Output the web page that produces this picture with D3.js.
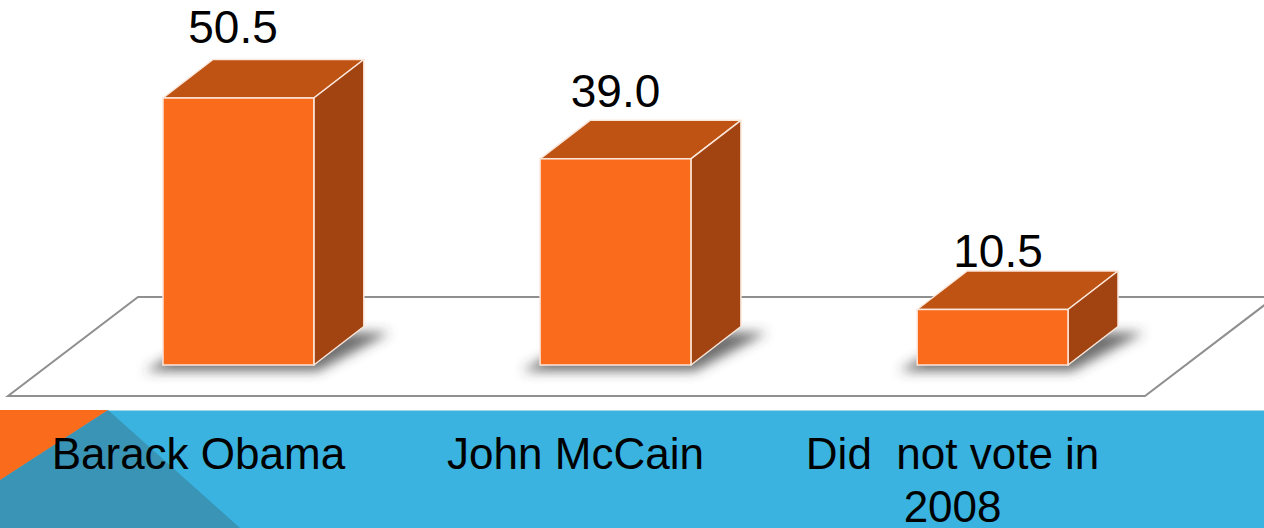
<!DOCTYPE html>
<html>
<head>
<meta charset="utf-8">
<script src="https://cdn.jsdelivr.net/npm/d3@7"></script>
<style>
  html, body { margin: 0; padding: 0; background: #fff; overflow: hidden; }
  text { font-family: "Liberation Sans", Arial, sans-serif; }
</style>
</head>
<body>
<div id="chart"></div>
<script>
// Data
const categories = ["Barack Obama", "John McCain", "Did  not vote in 2008"];
const categoryLines = [["Barack Obama"], ["John McCain"], ["Did  not vote in", "2008"]];
const values = [50.5, 39.0, 10.5];
const valueLabels = ["50.5", "39.0", "10.5"];

const width = 1264, height = 528;

const svg = d3.select("#chart")
  .append("svg")
  .attr("width", width)
  .attr("height", height);

// 3D depth of the boxes
const depthX = 50, depthY = 38.5;

// Scales
const x = d3.scaleBand()
  .domain(categories)
  .range([163, 1068])
  .paddingInner(0.6)
  .paddingOuter(0);

const y = d3.scaleLinear()
  .domain([0, 50.5])
  .range([365, 98]);

// value labels sit on a slightly different plane (perspective)
const yLabel = d3.scaleLinear()
  .domain([0, 50.5])
  .range([326, 43]);

const xLabel = d3.scalePoint()
  .domain(categories)
  .range([233, 998]);

const defs = svg.append("defs");
defs.append("filter")
  .attr("id", "shadow")
  .attr("x", "-30%").attr("y", "-100%")
  .attr("width", "160%").attr("height", "300%")
  .append("feGaussianBlur")
  .attr("stdDeviation", 6);

// Floor
const floorBack = 297, floorFront = 396;
svg.append("path")
  .attr("d", `M8,${floorFront} L1145,${floorFront} L1275,${floorBack} L138,${floorBack} Z`)
  .attr("fill", "#fff")
  .attr("stroke", "#8f8f8f")
  .attr("stroke-width", 2);

const bars = svg.append("g")
  .selectAll("g")
  .data(categories.map((c, i) => ({ cat: c, value: values[i], label: valueLabels[i] })))
  .join("g");

// Shadows
bars.append("path")
  .attr("d", d => {
    const x0 = x(d.cat), x1 = x0 + x.bandwidth(), yb = y(0);
    return `M${x0 - 18},${yb + 6} L${x1 + 4},${yb + 6} L${x1 + depthX + 26},${yb - depthY + 6} L${x0 + depthX},${yb - depthY + 6} Z`;
  })
  .attr("fill", "rgba(60,60,60,0.75)")
  .attr("filter", "url(#shadow)");

// Top face
bars.append("path")
  .attr("d", d => {
    const x0 = x(d.cat), x1 = x0 + x.bandwidth(), yt = y(d.value);
    return `M${x0},${yt} L${x1},${yt} L${x1 + depthX},${yt - depthY} L${x0 + depthX},${yt - depthY} Z`;
  })
  .attr("fill", "#bf5313")
  .attr("stroke", "#fbe6da")
  .attr("stroke-width", 1.5)
  .attr("stroke-linejoin", "round");

// Side face
bars.append("path")
  .attr("d", d => {
    const x1 = x(d.cat) + x.bandwidth(), yt = y(d.value), yb = y(0);
    return `M${x1},${yt} L${x1 + depthX},${yt - depthY} L${x1 + depthX},${yb - depthY} L${x1},${yb} Z`;
  })
  .attr("fill", "#a14412")
  .attr("stroke", "#fbe6da")
  .attr("stroke-width", 1.5)
  .attr("stroke-linejoin", "round");

// Front face
bars.append("rect")
  .attr("x", d => x(d.cat))
  .attr("y", d => y(d.value))
  .attr("width", x.bandwidth())
  .attr("height", d => y(0) - y(d.value))
  .attr("fill", "#fa6b1c")
  .attr("stroke", "#fbe6da")
  .attr("stroke-width", 1.5);

// Value labels
bars.append("text")
  .attr("x", d => xLabel(d.cat))
  .attr("y", d => yLabel(d.value))
  .attr("text-anchor", "middle")
  .style("font-size", "46px")
  .style("fill", "#000")
  .text(d => d.label);

// Bottom band
const bandTop = 410;
svg.append("rect")
  .attr("x", 0).attr("y", bandTop)
  .attr("width", width).attr("height", height - bandTop)
  .attr("fill", "#3ab3e0");
svg.append("line")
  .attr("x1", 0).attr("x2", width)
  .attr("y1", bandTop + 0.5).attr("y2", bandTop + 0.5)
  .attr("stroke", "#9fd6ec").attr("stroke-width", 1);
svg.append("path")
  .attr("d", `M108,${bandTop} L240,${height} L0,${height} L0,480 Z`)
  .attr("fill", "#3994b5");
svg.append("path")
  .attr("d", `M0,${bandTop} L108,${bandTop} L0,480 Z`)
  .attr("fill", "#fa6b1c");

// Category labels
const catText = svg.append("g")
  .selectAll("text")
  .data(categories)
  .join("text")
  .attr("x", d => x(d) + x.bandwidth() / 2 - 40)
  .attr("y", 469)
  .attr("text-anchor", "middle")
  .style("font-size", "44px")
  .style("fill", "#000");

catText.selectAll("tspan")
  .data((d, i) => categoryLines[i].map(l => ({ l, cx: x(d) + x.bandwidth() / 2 - 40 })))
  .join("tspan")
  .attr("x", t => t.cx)
  .attr("dy", (t, j) => j === 0 ? 0 : 53)
  .attr("xml:space", "preserve")
  .style("white-space", "pre")
  .text(t => t.l);
</script>
</body>
</html>
